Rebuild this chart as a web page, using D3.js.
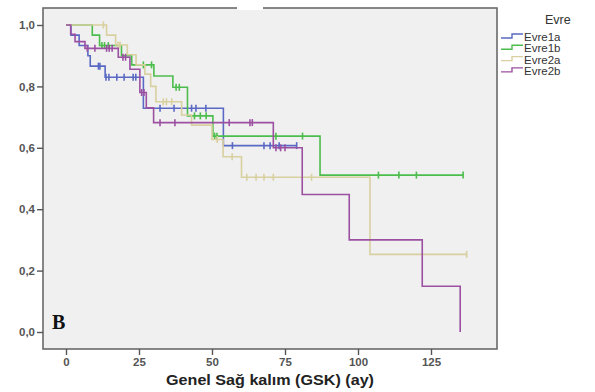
<!DOCTYPE html>
<html>
<head>
<meta charset="utf-8">
<script src="https://cdn.jsdelivr.net/npm/d3@7"></script>
<style>
  body { margin: 0; background: #fff; }
  svg { display: block; }
</style>
</head>
<body>
<div id="chart"></div>
<script>
// Kaplan-Meier steps: event times (ay) and survival after each step
const evre1aTimes = [0, 1.7, 4.5, 7.5, 8.3, 13.4, 26.5, 53.9];
const evre1aSurv = [1, 0.967, 0.933, 0.9, 0.866, 0.83, 0.729, 0.607];
const evre1aCensor = [11.1, 11.6, 13.7, 14.7, 17.4, 19.9, 23.0, 23.9, 32.2, 37, 43, 44.5, 47.9, 57, 67.8, 69.9, 73, 79];
const evre1aEnd = 79;

const evre1bTimes = [0, 9, 11.5, 19, 22.5, 30.1, 36.6, 41.6, 50.3, 87];
const evre1bSurv = [1, 0.967, 0.933, 0.9, 0.87, 0.834, 0.797, 0.704, 0.638, 0.511];
const evre1bCensor = [12.3, 13.2, 14.5, 26.5, 29.3, 37.7, 38.8, 44, 46, 48, 50.9, 51.7, 71.9, 81, 107, 114, 120, 136];
const evre1bEnd = 136;

const evre2aTimes = [0, 13.9, 17, 21, 24, 27, 29, 30.8, 39.6, 43, 50, 53.8, 60.1, 104.1];
const evre2aSurv = [1, 0.967, 0.935, 0.903, 0.87, 0.84, 0.8, 0.75, 0.707, 0.674, 0.627, 0.571, 0.504, 0.253];
const evre2aCensor = [12.8, 17.8, 18.5, 33.3, 34.4, 36.2, 51.8, 56.9, 61.9, 65.1, 67.8, 71, 84.1, 137.2];
const evre2aEnd = 137.2;

const evre2bTimes = [0, 1.6, 3.1, 6.5, 17.9, 21.9, 25.3, 27.5, 30, 71, 80.9, 97, 122, 135];
const evre2bSurv = [1, 0.97, 0.946, 0.924, 0.895, 0.856, 0.78, 0.73, 0.682, 0.6, 0.448, 0.3, 0.149, 0];
const evre2bCensor = [7.3, 9.9, 13.9, 14.8, 15.8, 19.5, 20.4, 25.9, 26.7, 32.2, 37.3, 55.9, 63, 63.8, 71.9, 73.5, 75];
const evre2bEnd = 135;

const groupNames = ["Evre1a", "Evre1b", "Evre2a", "Evre2b"];
const groupColors = ["#5a69c4", "#4cbd4c", "#d8d09f", "#9b50a2"];
const xTicks = [0, 25, 50, 75, 100, 125];
const yTicks = [0, 0.2, 0.4, 0.6, 0.8, 1.0];

const groups = [
    {times: evre1aTimes, surv: evre1aSurv, censor: evre1aCensor, end: evre1aEnd},
    {times: evre1bTimes, surv: evre1bSurv, censor: evre1bCensor, end: evre1bEnd},
    {times: evre2aTimes, surv: evre2aSurv, censor: evre2aCensor, end: evre2aEnd},
    {times: evre2bTimes, surv: evre2bSurv, censor: evre2bCensor, end: evre2bEnd}
].map((g, i) => ({...g, name: groupNames[i], color: groupColors[i]}));

const width = 595, height = 392;
const frame = {left: 43, top: 8, right: 497, bottom: 349};

const svg = d3.select("#chart").append("svg")
    .attr("width", width)
    .attr("height", height);

const x = d3.scaleLinear().domain([0, 125]).range([66, 431]);
const y = d3.scaleLinear().domain([0, 1]).range([332, 25]);

svg.append("rect")
    .attr("x", frame.left).attr("y", frame.top)
    .attr("width", frame.right - frame.left)
    .attr("height", frame.bottom - frame.top)
    .attr("fill", "#f0f0f0")
    .attr("stroke", "#6a6a6a")
    .attr("stroke-width", 1.6);

// small white gap in the top border, as in the scan
svg.append("rect")
    .attr("x", 237).attr("y", 5).attr("width", 26).attr("height", 5)
    .attr("fill", "#fff");

const yAxis = svg.append("g")
    .attr("transform", `translate(${frame.left},0)`)
    .call(d3.axisLeft(y).tickValues(yTicks).tickSize(6).tickPadding(2)
        .tickFormat(d => d.toFixed(1).replace(".", ",")));

const xAxis = svg.append("g")
    .attr("transform", `translate(0,${frame.bottom})`)
    .call(d3.axisBottom(x).tickValues(xTicks).tickSize(6).tickPadding(3));

[yAxis, xAxis].forEach(a => {
    a.select(".domain").remove();
    a.selectAll("line").attr("stroke", "#555").attr("stroke-width", 1.4);
    a.selectAll("text")
        .attr("fill", "#555")
        .style("font-family", "Liberation Sans, Arial, sans-serif")
        .style("font-size", "11.5px")
        .style("font-weight", "bold");
});

const stepLine = d3.line()
    .x(d => x(d[0]))
    .y(d => y(d[1]))
    .curve(d3.curveStepAfter);

function survAt(g, t) {
    let s = g.surv[0];
    g.times.forEach((tt, i) => { if (tt <= t) s = g.surv[i]; });
    return s;
}

groups.forEach(g => {
    const pts = g.times.map((t, i) => [t, g.surv[i]]);
    const last = pts[pts.length - 1];
    if (g.end > last[0]) pts.push([g.end, last[1]]);

    svg.append("path")
        .datum(pts)
        .attr("d", stepLine)
        .attr("fill", "none")
        .attr("stroke", g.color)
        .attr("stroke-width", 1.6);

    svg.append("g")
        .selectAll("line")
        .data(g.censor)
        .join("line")
        .attr("x1", d => x(d)).attr("x2", d => x(d))
        .attr("y1", d => y(survAt(g, d)) - 3.5)
        .attr("y2", d => y(survAt(g, d)) + 3.5)
        .attr("stroke", g.color)
        .attr("stroke-width", 1.6);
});

svg.append("text")
    .attr("x", 52).attr("y", 329)
    .style("font-family", "Liberation Serif, Times New Roman, serif")
    .style("font-size", "20px")
    .style("font-weight", "bold")
    .attr("fill", "#111")
    .text("B");

svg.append("text")
    .attr("x", 166).attr("y", 385)
    .attr("textLength", 208)
    .attr("lengthAdjust", "spacingAndGlyphs")
    .style("font-family", "Liberation Sans, Arial, sans-serif")
    .style("font-size", "14px")
    .style("font-weight", "bold")
    .attr("fill", "#222")
    .text("Genel Sağ kalım (GSK) (ay)");

// legend
svg.append("text")
    .attr("x", 545).attr("y", 24)
    .style("font-family", "Liberation Sans, Arial, sans-serif")
    .style("font-size", "12.5px")
    .attr("fill", "#333")
    .text("Evre");

const legend = svg.append("g")
    .selectAll("g")
    .data(groups)
    .join("g")
    .attr("transform", (d, i) => `translate(501,${37.5 + i * 11.3})`);

legend.append("path")
    .attr("d", "M0,0.5 H11 V-3.5 H22")
    .attr("fill", "none")
    .attr("stroke", d => d.color)
    .attr("stroke-width", 1.4);

legend.append("text")
    .attr("x", 23).attr("y", 3.5)
    .style("font-family", "Liberation Sans, Arial, sans-serif")
    .style("font-size", "11.5px")
    .attr("fill", "#333")
    .text(d => d.name);
</script>
</body>
</html>
